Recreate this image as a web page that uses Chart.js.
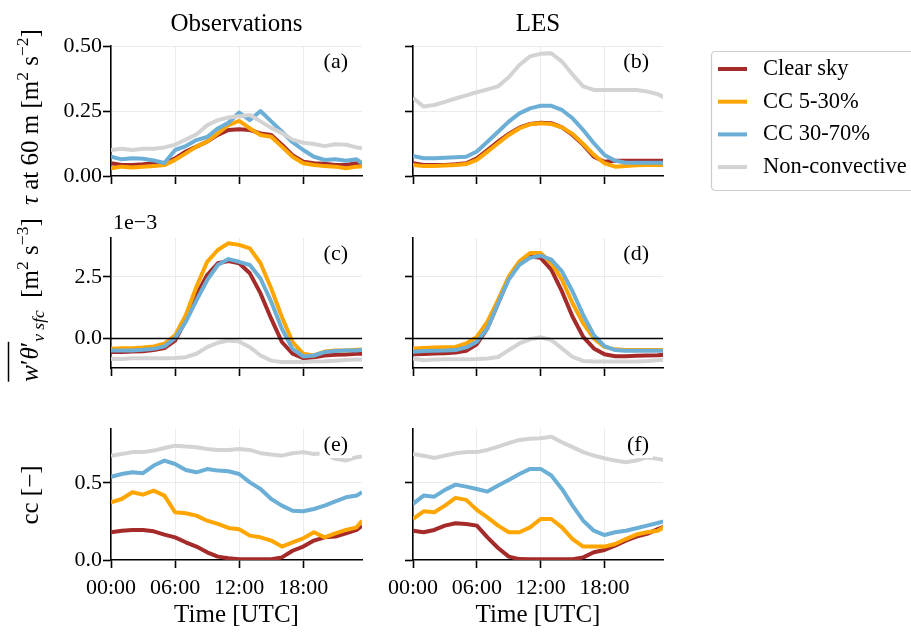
<!DOCTYPE html>
<html>
<head>
<meta charset="utf-8">
<script src="https://cdn.jsdelivr.net/npm/chart.js@4.4.0/dist/chart.umd.min.js"></script>
<style>
  body { margin: 0; background: #fff; width: 911px; height: 633px; overflow: hidden; position: relative; }
  .cell { position: absolute; }
  #overlay { position: absolute; left: 0; top: 0; pointer-events: none; }
</style>
</head>
<body>
<div class="cell"><canvas id="pa"></canvas></div>
<div class="cell"><canvas id="pb"></canvas></div>
<div class="cell"><canvas id="pc"></canvas></div>
<div class="cell"><canvas id="pd"></canvas></div>
<div class="cell"><canvas id="pe"></canvas></div>
<div class="cell"><canvas id="pf"></canvas></div>
<canvas id="overlay" width="911" height="633"></canvas>
<script>
// time axes (hours UTC)
const obsHours = [0,1,2,3,4,5,6,7,8,9,10,11,12,13,14,15,16,17,18,19,20,21,22,23,23.5];
const lesHours = [0,1,2,3,4,5,6,7,8,9,10,11,12,13,14,15,16,17,18,19,20,21,22,23,24];
const xTicks = [0, 6, 12, 18];
const xTickLabels = ['00:00', '06:00', '12:00', '18:00'];

const seriesNames = ['Clear sky', 'CC 5-30%', 'CC 30-70%', 'Non-convective'];
const seriesColors = ['#a52a2a', '#ffa500', '#6baed6', '#d3d3d3'];

// tau at 60 m [m2 s-2]
const tauObsClear   = [0.049,0.042,0.042,0.045,0.049,0.049,0.068,0.094,0.113,0.132,0.158,0.177,0.18,0.177,0.164,0.158,0.12,0.08,0.055,0.049,0.047,0.042,0.042,0.049,0.042];
const tauObsCc5     = [0.03,0.036,0.033,0.036,0.038,0.042,0.062,0.087,0.113,0.132,0.164,0.196,0.212,0.183,0.158,0.151,0.113,0.074,0.049,0.042,0.038,0.036,0.03,0.036,0.038];
const tauObsCc30    = [0.074,0.064,0.068,0.066,0.06,0.05,0.1,0.115,0.138,0.15,0.183,0.205,0.244,0.215,0.25,0.21,0.17,0.13,0.1,0.074,0.062,0.064,0.059,0.064,0.049];
const tauObsNonConv = [0.10,0.105,0.10,0.105,0.105,0.11,0.12,0.14,0.16,0.195,0.215,0.225,0.23,0.235,0.21,0.185,0.165,0.14,0.128,0.123,0.115,0.122,0.12,0.11,0.108];
const tauLesClear   = [0.049,0.042,0.042,0.042,0.045,0.049,0.068,0.1,0.132,0.162,0.186,0.2,0.205,0.203,0.187,0.158,0.12,0.074,0.055,0.059,0.059,0.059,0.059,0.059,0.059];
const tauLesCc5     = [0.042,0.038,0.038,0.04,0.042,0.046,0.062,0.094,0.126,0.158,0.183,0.199,0.203,0.2,0.187,0.162,0.123,0.081,0.049,0.036,0.038,0.041,0.042,0.042,0.042];
const tauLesCc30    = [0.077,0.068,0.068,0.07,0.072,0.074,0.094,0.132,0.17,0.209,0.241,0.26,0.27,0.27,0.254,0.222,0.177,0.126,0.081,0.059,0.051,0.051,0.051,0.051,0.051];
const tauLesNonConv = [0.30,0.267,0.273,0.285,0.298,0.31,0.322,0.333,0.345,0.38,0.427,0.46,0.47,0.472,0.44,0.39,0.345,0.331,0.331,0.331,0.331,0.331,0.325,0.315,0.295];

// surface buoyancy flux [1e-3 m2 s-3]
const shfObsClear   = [-0.57,-0.57,-0.55,-0.54,-0.49,-0.41,-0.1,0.72,1.75,2.57,3.05,3.14,3.05,2.64,1.82,0.79,-0.16,-0.64,-0.82,-0.78,-0.71,-0.68,-0.67,-0.64,-0.64];
const shfObsCc5     = [-0.44,-0.41,-0.41,-0.38,-0.34,-0.23,0.11,0.93,2.09,3.11,3.59,3.87,3.8,3.66,3.05,2.02,0.86,-0.16,-0.64,-0.71,-0.55,-0.51,-0.51,-0.48,-0.47];
const shfObsCc30    = [-0.51,-0.51,-0.51,-0.48,-0.44,-0.34,0,0.66,1.54,2.36,2.98,3.22,3.11,2.98,2.43,1.48,0.38,-0.44,-0.75,-0.71,-0.57,-0.53,-0.51,-0.51,-0.48];
const shfObsNonConv = [-0.85,-0.85,-0.82,-0.82,-0.82,-0.82,-0.81,-0.78,-0.64,-0.37,-0.19,-0.1,-0.14,-0.37,-0.71,-0.92,-0.98,-0.98,-0.98,-0.95,-0.94,-0.92,-0.89,-0.87,-0.87];
const shfLesClear   = [-0.66,-0.65,-0.63,-0.62,-0.59,-0.52,-0.25,0.4,1.42,2.45,3.06,3.33,3.27,2.79,1.9,0.87,0.05,-0.42,-0.66,-0.74,-0.74,-0.72,-0.71,-0.7,-0.67];
const shfLesCc5     = [-0.42,-0.4,-0.38,-0.37,-0.36,-0.22,0.05,0.67,1.56,2.51,3.13,3.47,3.47,3.06,2.38,1.42,0.6,-0.01,-0.36,-0.46,-0.49,-0.49,-0.49,-0.49,-0.49];
const shfLesCc30    = [-0.56,-0.53,-0.52,-0.51,-0.49,-0.38,-0.15,0.4,1.42,2.38,2.99,3.27,3.36,3.2,2.72,1.9,0.94,0.12,-0.33,-0.49,-0.52,-0.52,-0.52,-0.52,-0.52];
const shfLesNonConv = [-0.83,-0.9,-0.87,-0.86,-0.86,-0.86,-0.85,-0.83,-0.77,-0.49,-0.22,-0.05,0.03,-0.08,-0.42,-0.77,-0.93,-0.95,-0.95,-0.95,-0.95,-0.95,-0.93,-0.9,-0.87];

// cloud cover [-]
const ccObsClear    = [0.18,0.19,0.195,0.195,0.186,0.165,0.147,0.115,0.087,0.05,0.022,0.011,0.005,0.005,0.005,0.005,0.017,0.06,0.087,0.126,0.147,0.152,0.173,0.195,0.223];
const ccObsCc5      = [0.374,0.396,0.44,0.424,0.45,0.418,0.31,0.303,0.288,0.255,0.234,0.208,0.2,0.158,0.147,0.126,0.087,0.115,0.141,0.18,0.147,0.173,0.195,0.212,0.255];
const ccObsCc30     = [0.54,0.558,0.569,0.563,0.613,0.645,0.623,0.584,0.569,0.59,0.58,0.576,0.558,0.504,0.461,0.396,0.353,0.32,0.316,0.331,0.353,0.381,0.407,0.418,0.44];
const ccObsNonConv  = [0.677,0.688,0.70,0.70,0.71,0.727,0.742,0.736,0.732,0.72,0.714,0.714,0.72,0.714,0.693,0.684,0.677,0.693,0.70,0.688,0.693,0.656,0.645,0.667,0.672];
const ccLesClear    = [0.19,0.18,0.195,0.223,0.238,0.234,0.223,0.147,0.078,0.022,0.006,0.005,0.005,0.005,0.005,0.005,0.017,0.05,0.065,0.093,0.126,0.152,0.17,0.2,0.225];
const ccLesCc5      = [0.266,0.316,0.31,0.353,0.403,0.39,0.325,0.277,0.223,0.18,0.18,0.212,0.266,0.266,0.212,0.136,0.087,0.087,0.087,0.104,0.136,0.165,0.18,0.19,0.23];
const ccLesCc30     = [0.364,0.418,0.411,0.455,0.489,0.476,0.461,0.444,0.483,0.519,0.558,0.591,0.591,0.548,0.461,0.353,0.255,0.19,0.162,0.18,0.19,0.206,0.223,0.24,0.26];
const ccLesNonConv  = [0.688,0.677,0.662,0.677,0.693,0.70,0.70,0.714,0.736,0.758,0.779,0.786,0.79,0.80,0.764,0.732,0.70,0.677,0.66,0.645,0.634,0.645,0.667,0.656,0.645];

const serif = "'Liberation Serif', 'Times New Roman', serif";
const gridColor = '#ebebeb';

const panelDeco = {
  id: 'panelDeco',
  afterDatasetsDraw(chart, args, o) {
    const { ctx, chartArea: a, scales } = chart;
    ctx.save();
    if (o.zeroLine) {
      const y = Math.round(scales.y.getPixelForValue(0)) + 0.5;
      ctx.strokeStyle = '#000';
      ctx.lineWidth = 1.6;
      ctx.beginPath(); ctx.moveTo(a.left, y); ctx.lineTo(a.right, y); ctx.stroke();
    }
    ctx.font = '22px ' + serif;
    const w = ctx.measureText(o.tag).width;
    const xr = a.right - 14, yc = a.top + 16;
    ctx.fillStyle = '#fff';
    ctx.fillRect(xr - w - 4, yc - 12, w + 8, 25);
    ctx.fillStyle = '#000';
    ctx.textAlign = 'right';
    ctx.textBaseline = 'middle';
    ctx.fillText(o.tag, xr, yc);
    ctx.restore();
  }
};

function makePanel(id, cell, hours, arrays, yAxis, showX, showY, tag, zeroLine) {
  const wrap = document.getElementById(id).parentNode;
  wrap.style.left = cell.left + 'px';
  wrap.style.top = cell.top + 'px';
  wrap.style.width = cell.width + 'px';
  wrap.style.height = cell.height + 'px';
  const yWidth = cell.areaLeft - cell.left;
  const xHeight = cell.top + cell.height - cell.areaBottom;
  const hideZero = c => (c.tick && c.tick.value === 0) ? 'rgba(0,0,0,0)' : gridColor;

  return new Chart(document.getElementById(id), {
    type: 'line',
    data: {
      datasets: arrays.map((vals, i) => ({
        label: seriesNames[i],
        data: hours.map((h, k) => ({ x: h, y: vals[k] })),
        borderColor: seriesColors[i],
        backgroundColor: seriesColors[i],
        borderWidth: 4,
        pointRadius: 0,
        tension: 0,
        borderJoinStyle: 'round',
        order: 4 - i,
      })),
    },
    options: {
      responsive: true,
      maintainAspectRatio: false,
      animation: false,
      events: [],
      layout: { padding: { left: 0, top: cell.areaTop - cell.top, right: cell.left + cell.width - cell.areaRight, bottom: 0 } },
      plugins: {
        legend: { display: false },
        tooltip: { enabled: false },
        panelDeco: { tag: tag, zeroLine: zeroLine },
      },
      scales: {
        x: {
          type: 'linear',
          min: 0,
          max: 23.5,
          afterBuildTicks: s => { s.ticks = xTicks.map(v => ({ value: v })); },
          afterFit: s => { s.height = xHeight; },
          ticks: {
            autoSkip: false,
            maxRotation: 0,
            padding: 7,
            color: '#000',
            font: { family: serif, size: 22 },
            callback: v => showX ? xTickLabels[xTicks.indexOf(v)] : '',
          },
          grid: { color: hideZero, lineWidth: 1, tickColor: '#000', tickLength: 8, tickWidth: 1.6 },
          border: { color: '#000', width: 1.6 },
        },
        y: {
          min: yAxis.min,
          max: yAxis.max,
          afterBuildTicks: s => { s.ticks = yAxis.ticks.map(v => ({ value: v })); },
          afterFit: s => { s.width = yWidth; },
          ticks: {
            padding: 1,
            color: '#000',
            font: { family: serif, size: 22 },
            callback: v => showY ? yAxis.fmt(v) : '',
          },
          grid: { color: hideZero, lineWidth: 1, tickColor: '#000', tickLength: 8, tickWidth: 1.6 },
          border: { color: '#000', width: 1.6 },
        },
      },
    },
    plugins: [panelDeco],
  });
}

const tauAxis = { min: 0, max: 0.5, ticks: [0, 0.25, 0.5], fmt: v => v.toFixed(2) };
const shfAxis = { min: -1.22, max: 4.08, ticks: [0, 2.5], fmt: v => v.toFixed(1) };
const ccAxis  = { min: 0, max: 0.85, ticks: [0, 0.5], fmt: v => v.toFixed(1) };

const leftCol  = { left: 0, width: 372, areaLeft: 111, areaRight: 362 };
const rightCol = { left: 378, width: 296, areaLeft: 413, areaRight: 663 };
const row1 = { top: 0, height: 196, areaTop: 46, areaBottom: 176 };
const row2 = { top: 196, height: 190, areaTop: 238, areaBottom: 368 };
const row3 = { top: 386, height: 247, areaTop: 429, areaBottom: 560 };
const cell = (c, r) => Object.assign({}, c, r);

makePanel('pa', cell(leftCol, row1), obsHours, [tauObsClear, tauObsCc5, tauObsCc30, tauObsNonConv], tauAxis, false, true, '(a)', false);
makePanel('pb', cell(rightCol, row1), lesHours, [tauLesClear, tauLesCc5, tauLesCc30, tauLesNonConv], tauAxis, false, false, '(b)', false);
makePanel('pc', cell(leftCol, row2), obsHours, [shfObsClear, shfObsCc5, shfObsCc30, shfObsNonConv], shfAxis, false, true, '(c)', true);
makePanel('pd', cell(rightCol, row2), lesHours, [shfLesClear, shfLesCc5, shfLesCc30, shfLesNonConv], shfAxis, false, false, '(d)', true);
makePanel('pe', cell(leftCol, row3), obsHours, [ccObsClear, ccObsCc5, ccObsCc30, ccObsNonConv], ccAxis, true, true, '(e)', false);
makePanel('pf', cell(rightCol, row3), lesHours, [ccLesClear, ccLesCc5, ccLesCc30, ccLesNonConv], ccAxis, true, false, '(f)', false);

// titles, axis labels and legend
const ov = document.getElementById('overlay').getContext('2d');

function richText(ctx, parts, x, y, size, overline) {
  const fontOf = p => (p.it ? 'italic ' : '') + (size * (p.s || 1)) + 'px ' + serif;
  const widths = parts.map(p => { ctx.font = fontOf(p); return ctx.measureText(p.t).width; });
  const total = widths.reduce((a, b) => a + b, 0);
  ctx.save();
  ctx.translate(x, y);
  ctx.rotate(-Math.PI / 2);
  ctx.fillStyle = '#000';
  ctx.textBaseline = 'alphabetic';
  let cx = -total / 2;
  const starts = [];
  parts.forEach((p, i) => {
    starts.push(cx);
    ctx.font = fontOf(p);
    ctx.fillText(p.t, cx, (p.dy || 0) * size);
    cx += widths[i];
  });
  if (overline) {
    const x0 = starts[overline[0]], x1 = starts[overline[1]] + widths[overline[1]];
    ctx.strokeStyle = '#000';
    ctx.lineWidth = 1.5;
    ctx.beginPath(); ctx.moveTo(x0, -1.18 * size); ctx.lineTo(x1, -1.18 * size); ctx.stroke();
  }
  ctx.restore();
}

ov.fillStyle = '#000';
ov.textAlign = 'center';
ov.textBaseline = 'alphabetic';
ov.font = '25px ' + serif;
ov.fillText('Observations', 236.5, 31);
ov.fillText('LES', 538, 31);
ov.fillText('Time [UTC]', 236.5, 622);
ov.fillText('Time [UTC]', 538, 622);
ov.textAlign = 'left';
ov.font = '22px ' + serif;
ov.fillText('1e\u22123', 113, 229);

const sup = t => ({ t: t, s: 0.7, dy: -0.42 });
richText(ov, [{ t: '\u03c4', it: true }, { t: ' at 60 m [m' }, sup('2'), { t: ' s' }, sup('\u22122'), { t: ']' }], 38, 117, 25);
richText(ov, [{ t: 'w', it: true }, { t: '\u2032' }, { t: '\u03b8', it: true }, { t: '\u2032' }, { t: 'v sfc', it: true, s: 0.7, dy: 0.25 },
  { t: '  [m' }, sup('2'), { t: ' s' }, sup('\u22123'), { t: ']' }], 38, 300, 25, [0, 3]);
richText(ov, [{ t: 'cc [\u2212]' }], 38, 495, 25);

// legend
ov.save();
ov.beginPath();
ov.roundRect(711.5, 51.5, 240, 139, 4);
ov.fillStyle = 'rgba(255,255,255,0.85)';
ov.fill();
ov.strokeStyle = '#cccccc';
ov.lineWidth = 1.2;
ov.stroke();
ov.font = '22.5px ' + serif;
ov.textBaseline = 'middle';
ov.textAlign = 'left';
seriesNames.forEach((name, i) => {
  const y = 69 + i * 32.7;
  ov.strokeStyle = seriesColors[i];
  ov.lineWidth = 4;
  ov.beginPath(); ov.moveTo(718, y); ov.lineTo(747, y); ov.stroke();
  ov.fillStyle = '#000';
  ov.fillText(name, 763, y);
});
ov.restore();
</script>
</body>
</html>
